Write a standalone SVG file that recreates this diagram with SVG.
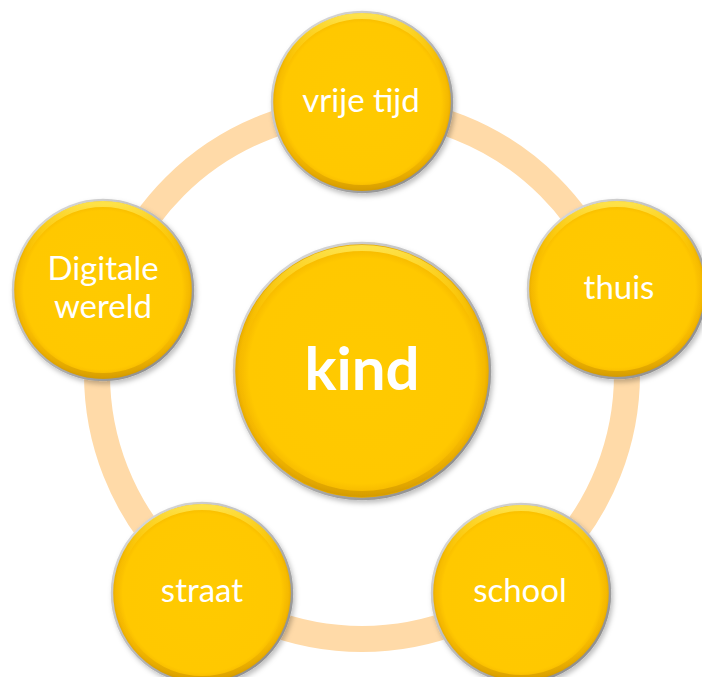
<svg xmlns="http://www.w3.org/2000/svg" width="702" height="677" viewBox="0 0 702 677">
  <defs>
    <radialGradient id="fillG" cx="50%" cy="50%" r="50%">
      <stop offset="0%" stop-color="#FFCA00"/>
      <stop offset="88%" stop-color="#FFC800"/>
      <stop offset="96%" stop-color="#F5B800"/>
      <stop offset="100%" stop-color="#E0A400"/>
    </radialGradient>
    <linearGradient id="bevel" x1="0" y1="0" x2="0" y2="1">
      <stop offset="0%" stop-color="#FFE650" stop-opacity="0.9"/>
      <stop offset="30%" stop-color="#FFD000" stop-opacity="0.15"/>
      <stop offset="75%" stop-color="#E8A800" stop-opacity="0.1"/>
      <stop offset="100%" stop-color="#C89000" stop-opacity="0.6"/>
    </linearGradient>
    <linearGradient id="rim" x1="0" y1="0" x2="1" y2="1">
      <stop offset="0%" stop-color="#E0E0E0"/>
      <stop offset="50%" stop-color="#B8B8B8"/>
      <stop offset="100%" stop-color="#808080"/>
    </linearGradient>
    <filter id="shadow" x="-20%" y="-20%" width="140%" height="140%">
      <feDropShadow dx="2" dy="3" stdDeviation="2.5" flood-color="#000" flood-opacity="0.25"/>
    </filter>
  </defs>
  <style>
    .disc { fill: url(#fillG); stroke: url(#rim); stroke-width: 2.5; filter: url(#shadow); }
    .bev { fill: none; stroke: url(#bevel); stroke-width: 6; }
    .lbl { font-family: Lato, "Open Sans", "Liberation Sans", sans-serif; fill: #FFFFFF; text-anchor: middle; font-size: 33px; }
    .big { font-size: 60px; font-weight: bold; }
    .ring { fill: none; stroke: #FFDAA8; stroke-width: 26; }
  </style>
  <rect width="702" height="677" fill="#FFFFFF"/>
  <g id="connectors">
    <circle class="ring" cx="362" cy="374" r="265"/>
  </g>
  <g id="node-kind">
    <circle class="disc" cx="362" cy="371" r="128"/>
    <circle class="bev" cx="362" cy="371" r="123"/>
    <text class="lbl big" x="362" y="390">kind</text>
  </g>
  <g id="node-vrije-tijd">
    <circle class="disc" cx="362" cy="102" r="90"/>
    <circle class="bev" cx="362" cy="102" r="86"/>
    <text class="lbl" x="361" y="112">vrije tijd</text>
  </g>
  <g id="node-thuis">
    <circle class="disc" cx="617" cy="289" r="89"/>
    <circle class="bev" cx="617" cy="289" r="85"/>
    <text class="lbl" x="619" y="299">thuis</text>
  </g>
  <g id="node-school">
    <circle class="disc" cx="521" cy="593" r="89"/>
    <circle class="bev" cx="521" cy="593" r="85"/>
    <text class="lbl" x="520" y="602">school</text>
  </g>
  <g id="node-straat">
    <circle class="disc" cx="202" cy="593" r="90"/>
    <circle class="bev" cx="202" cy="593" r="86"/>
    <text class="lbl" x="202" y="602">straat</text>
  </g>
  <g id="node-digitale-wereld">
    <circle class="disc" cx="103" cy="290" r="90"/>
    <circle class="bev" cx="103" cy="290" r="86"/>
    <text class="lbl" x="103" y="280">Digitale</text>
    <text class="lbl" x="103" y="318">wereld</text>
  </g>
</svg>
